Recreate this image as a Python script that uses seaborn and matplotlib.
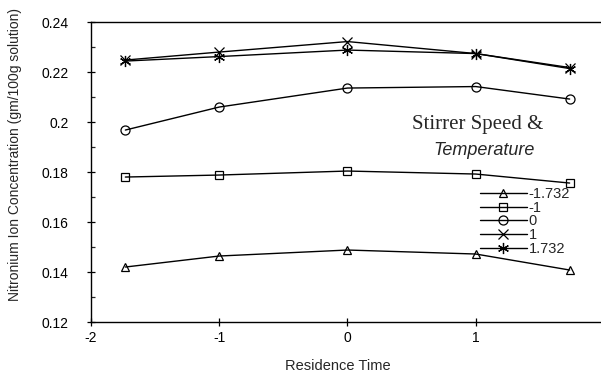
import pandas as pd
import numpy as np
import matplotlib
matplotlib.use("Agg")
import matplotlib.pyplot as plt
import seaborn as sns
from matplotlib.ticker import MultipleLocator

sns.set_style("ticks")
plt.rcParams['font.family'] = ['Liberation Sans', 'DejaVu Sans']

# residence time (coded levels)
res_time = [-1.732, -1, 0, 1, 1.732]

# stirrer speed & temperature levels
levels = ['-1.732', '-1', '0', '1', '1.732']

conc_m1732 = [0.1420, 0.1464, 0.1488, 0.1472, 0.1408]
conc_m1 = [0.1780, 0.1788, 0.1804, 0.1792, 0.1756]
conc_0 = [0.1968, 0.2060, 0.2136, 0.2142, 0.2092]
conc_1 = [0.2248, 0.2280, 0.2322, 0.2274, 0.2218]
conc_1732 = [0.2244, 0.2262, 0.2288, 0.2274, 0.2214]

series = [conc_m1732, conc_m1, conc_0, conc_1, conc_1732]

marker_list = ['^', 's', 'o', 'x', (6, 2, 0)]
size_list = [6, 6, 6.5, 7, 8]

fig = plt.figure(figsize=(6.01, 3.74), dpi=100)
ax = fig.add_axes([0.1514, 0.139, 0.8536, 0.802])

# ------------------------------
# one line per level
# ------------------------------
for lev, vals, mk, ms in zip(levels, series, marker_list, size_list):
    d = pd.DataFrame({'time': res_time, 'conc': vals})
    sns.lineplot(
        data=d,
        x='time',
        y='conc',
        color='black',
        linewidth=1,
        marker=mk,
        markersize=ms,
        markerfacecolor='none',
        markeredgecolor='black',
        markeredgewidth=0.9,
        label=lev,
        ax=ax
    )

ax.set_xlim(-2, 2)
ax.set_ylim(0.12, 0.24)
ax.set_xticks([-2, -1, 0, 1, 2])
ax.set_xticklabels(['-2', '-1', '0', '1', '2'])
ax.set_yticks([0.12, 0.14, 0.16, 0.18, 0.2, 0.22, 0.24])
ax.set_yticklabels(['0.12', '0.14', '0.16', '0.18', '0.2', '0.22', '0.24'])
ax.yaxis.set_minor_locator(MultipleLocator(0.01))
ax.tick_params(axis='both', which='major', direction='inout', length=6,
               width=0.9, labelsize=10, colors='black')
ax.tick_params(axis='y', which='major', pad=13)
ax.tick_params(axis='y', which='minor', direction='in', length=3, width=0.9)

for s in ['left', 'bottom', 'top']:
    ax.spines[s].set_color('black')
    ax.spines[s].set_linewidth(1)
ax.spines['right'].set_visible(False)

ax.set_xlabel("Residence Time", fontsize=10.5, va='center')
ax.xaxis.set_label_coords(0.481, -0.147)
ax.set_ylabel("Nitronium Ion Concentration (gm/100g solution)", fontsize=10, va='center')
ax.yaxis.set_label_coords(-0.148, 0.557)

ax.text(0.626, 0.643, "Stirrer Speed &", transform=ax.transAxes,
        fontsize=15, family=['Liberation Serif', 'DejaVu Serif'],
        ha='left', va='baseline')
ax.text(0.667, 0.557, "Temperature", transform=ax.transAxes,
        fontsize=13, style='italic', ha='left', va='baseline')

handles, labels = ax.get_legend_handles_labels()
ax.legend(handles, labels, frameon=False, fontsize=10.5,
          loc='upper left', bbox_to_anchor=(0.758, 0.45),
          handlelength=3.2, handletextpad=0.15, labelspacing=-0.02,
          borderpad=0, borderaxespad=0)

fig.savefig("out.png", dpi=100)
